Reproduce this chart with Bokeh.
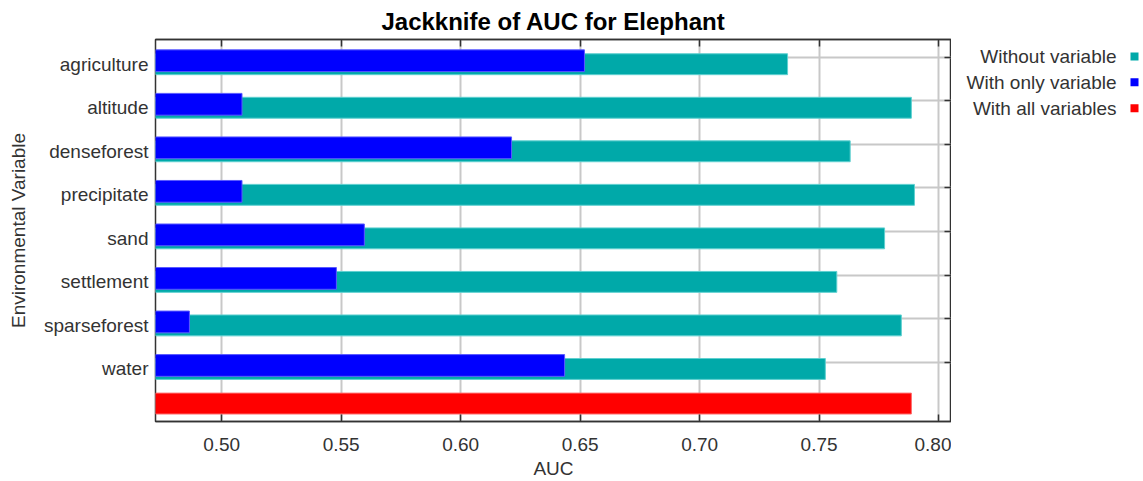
from bokeh.plotting import figure
from bokeh.layouts import row
from bokeh.models import Range1d, LinearAxis, FixedTicker, NumeralTickFormatter
from bokeh.embed import file_html
from bokeh.resources import INLINE
from bokeh.core.properties import value

# Jackknife results (AUC) per environmental variable
variables = ["agriculture", "altitude", "denseforest", "precipitate",
             "sand", "settlement", "sparseforest", "water"]
without_variable = [0.7368, 0.7886, 0.7630, 0.7899, 0.7774, 0.7574, 0.7844, 0.7526]
with_only_variable = [0.6518, 0.5085, 0.6213, 0.5085, 0.5597, 0.5480, 0.4865, 0.6435]
with_all_variables = [0.7886]
x_ticks = [0.50, 0.55, 0.60, 0.65, 0.70, 0.75, 0.80]
legend_labels = ["Without variable", "With only variable", "With all variables"]

TEAL = "#00A9A9"
BLUE = "#0000FF"
RED = "#FF0000"
FONT = "Liberation Sans"
TEXT = "#333333"
FRAME = "#333333"

rows = list(range(len(variables)))
all_row = len(variables)

# bar offsets within each category band (fraction of one band)
TEAL_OFF, BLUE_OFF, RED_OFF = 0.157, 0.077, -0.048
BAR_H = 0.48

BORDER_TOP, BORDER_BOTTOM = 37, 60

p = figure(width=951, height=481, output_backend="svg", toolbar_location=None,
           x_range=Range1d(0.4723, 0.8054), y_range=Range1d(8.364, -0.411),
           min_border_left=155, min_border_right=0, min_border_top=BORDER_TOP,
           min_border_bottom=BORDER_BOTTOM, x_axis_location=None, y_axis_location=None)
p.background_fill_color = "white"
p.border_fill_color = "white"
p.outline_line_color = FRAME
p.outline_line_width = 1.5

p.hbar(y=[r + TEAL_OFF for r in rows], left=0, right=without_variable, height=BAR_H,
       fill_color=TEAL, line_color="#5fd0d0", line_width=1)
p.hbar(y=[r + BLUE_OFF for r in rows], left=0, right=with_only_variable, height=BAR_H + 0.02,
       fill_color=BLUE, line_color="#5a5aff", line_width=1)
p.hbar(y=[all_row + RED_OFF], left=0, right=with_all_variables, height=BAR_H,
       fill_color=RED, line_color="#ff6a6a", line_width=1)

xticker = FixedTicker(ticks=x_ticks)
row_ticker = FixedTicker(ticks=rows)
label_pos = [r + TEAL_OFF for r in rows]


def tick_only_axis(ticker):
    ax = LinearAxis(ticker=ticker,
                    major_label_overrides={t: "" for t in ticker.ticks})
    ax.major_tick_in = 7
    ax.major_tick_out = 0
    ax.minor_tick_line_color = None
    ax.axis_line_color = FRAME
    ax.axis_line_width = 1.5
    ax.major_tick_line_color = FRAME
    ax.major_tick_line_width = 1.5
    ax.major_label_standoff = 0
    return ax


# bottom axis with labels
xb = LinearAxis(ticker=xticker, formatter=NumeralTickFormatter(format="0.00"),
                axis_label="AUC")
xb.major_tick_in = 7
xb.major_tick_out = 0
xb.minor_tick_line_color = None
xb.axis_line_color = FRAME
xb.axis_line_width = 1.5
xb.major_tick_line_color = FRAME
xb.major_tick_line_width = 1.5
xb.major_label_text_font = FONT
xb.major_label_text_font_size = "19px"
xb.major_label_text_color = TEXT
xb.major_label_standoff = 16
xb.axis_label_text_font = FONT
xb.axis_label_text_font_size = "19px"
xb.axis_label_text_font_style = "normal"
xb.axis_label_text_color = TEXT
xb.axis_label_standoff = 4
p.add_layout(xb, "below")

# top and right axes carry tick marks only
p.add_layout(tick_only_axis(xticker), "above")
p.add_layout(tick_only_axis(row_ticker), "right")

# left axis: variable names
yl = LinearAxis(ticker=FixedTicker(ticks=label_pos),
                major_label_overrides={pos: name for pos, name in zip(label_pos, variables)},
                axis_label="Environmental Variable")
yl.major_tick_in = 0
yl.major_tick_out = 0
yl.minor_tick_line_color = None
yl.axis_line_color = None
yl.major_label_text_font = FONT
yl.major_label_text_font_size = "19px"
yl.major_label_text_color = TEXT
yl.major_label_standoff = 7
yl.axis_label_text_font = FONT
yl.axis_label_text_font_size = "19px"
yl.axis_label_text_font_style = "normal"
yl.axis_label_text_color = TEXT
yl.axis_label_standoff = 12
p.add_layout(yl, "left")

p.xgrid.ticker = xticker
p.ygrid.ticker = row_ticker
for g in (p.xgrid, p.ygrid):
    g.grid_line_color = "#c8c8c8"
    g.grid_line_width = 2

p.title.text = "Jackknife of AUC for Elephant"
p.title.align = "center"
p.title.text_font = FONT
p.title.text_font_size = "24px"
p.title.text_font_style = "bold"
p.title.text_color = "#000000"

# legend panel: right-aligned names with a colour square after each;
# its frame shares the main plot's vertical borders, so the y range is in pixels
lg = figure(width=192, height=481, output_backend="svg", toolbar_location=None,
            x_range=Range1d(0, 192), y_range=Range1d(481 - BORDER_BOTTOM, BORDER_TOP),
            min_border_left=0, min_border_right=0, min_border_top=BORDER_TOP,
            min_border_bottom=BORDER_BOTTOM, x_axis_location=None, y_axis_location=None)
lg.outline_line_color = None
lg.background_fill_color = "white"
lg.border_fill_color = "white"
lg.xgrid.visible = False
lg.ygrid.visible = False
item_y = [54 + 26 * i for i in range(len(legend_labels))]
lg.text(x=[165] * len(legend_labels), y=item_y, text=legend_labels,
        text_align="right", text_baseline="middle", text_font=value(FONT),
        text_font_size="19px", text_color=TEXT)
lg.scatter(x=[183] * len(legend_labels), y=item_y, marker="square", size=8,
           fill_color=[TEAL, BLUE, RED], line_color=None)

layout = row(p, lg, spacing=0)
open("out.html", "w").write(file_html(layout, INLINE))
